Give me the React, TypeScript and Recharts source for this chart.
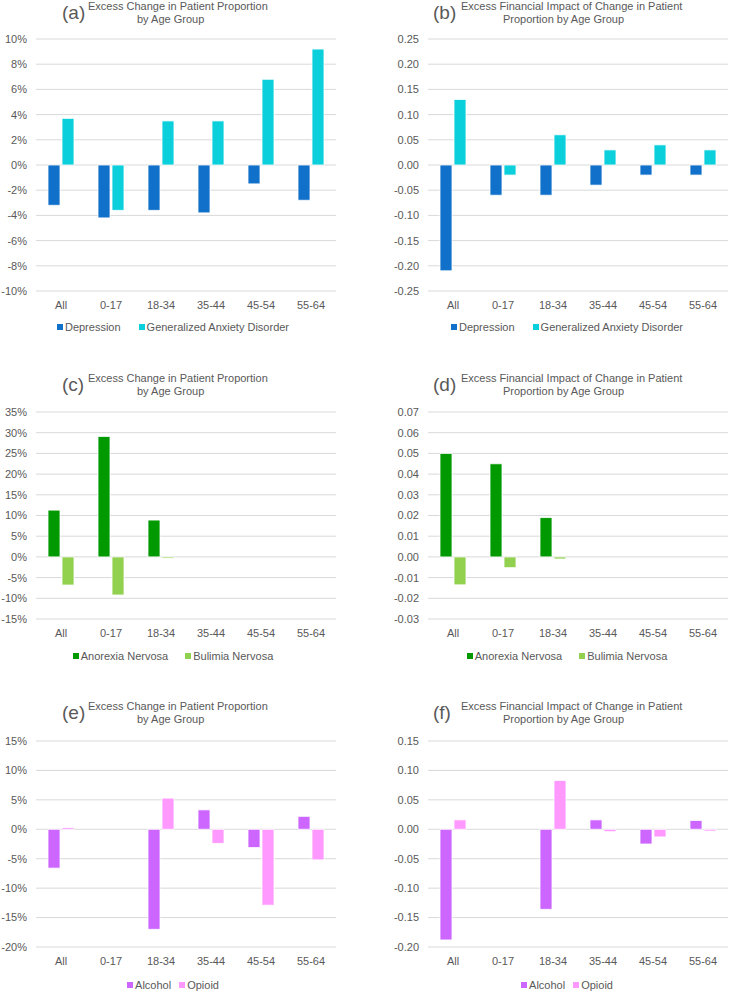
import { BarChart, Bar, XAxis, YAxis, CartesianGrid } from 'recharts';

const categories = ['All', '0-17', '18-34', '35-44', '45-54', '55-64'];

// (a) and (b): depression vs generalized anxiety disorder
const depressionPct = [-3.2, -4.2, -3.6, -3.8, -1.5, -2.8];
const anxietyPct = [3.7, -3.6, 3.5, 3.5, 6.8, 9.2];
const depressionFin = [-0.21, -0.06, -0.06, -0.04, -0.02, -0.02];
const anxietyFin = [0.13, -0.02, 0.06, 0.03, 0.04, 0.03];

// (c) and (d): eating disorders
const anorexiaPct = [11.3, 29.1, 8.9, null, null, null];
const bulimiaPct = [-6.8, -9.2, -0.3, null, null, null];
const anorexiaFin = [0.05, 0.045, 0.019, null, null, null];
const bulimiaFin = [-0.0135, -0.0052, -0.001, null, null, null];

// (e) and (f): substance use
const alcoholPct = [-6.6, null, -17.0, 3.3, -3.1, 2.2];
const opioidPct = [0.3, null, 5.3, -2.4, -12.9, -5.2];
const alcoholFin = [-0.188, null, -0.136, 0.016, -0.025, 0.015];
const opioidFin = [0.016, null, 0.083, -0.004, -0.013, -0.003];

const ticksA = [-10, -8, -6, -4, -2, 0, 2, 4, 6, 8, 10];
const ticksB = [-0.25, -0.2, -0.15, -0.1, -0.05, 0, 0.05, 0.1, 0.15, 0.2, 0.25];
const ticksC = [-15, -10, -5, 0, 5, 10, 15, 20, 25, 30, 35];
const ticksD = [-0.03, -0.02, -0.01, 0, 0.01, 0.02, 0.03, 0.04, 0.05, 0.06, 0.07];
const ticksE = [-20, -15, -10, -5, 0, 5, 10, 15];
const ticksF = [-0.2, -0.15, -0.1, -0.05, 0, 0.05, 0.1, 0.15];

const TEXT = '#595959';
const FONT = '"Liberation Sans", Arial, sans-serif';

const pct = (v: number) => `${v}%`;
const fin = (v: number) => v.toFixed(2);

function rows(a: (number | null)[], b: (number | null)[]) {
  return categories.map((cat, i) => ({ cat, s1: a[i], s2: b[i] }));
}

interface PanelProps {
  tag: string;
  line1: string;
  line2: string;
  tagX: number;
  line1X: number;
  line2X: number;
  titleY: number;
  panelX: number;
  plotLeft: number;
  plotRight: number;
  plotTop: number;
  plotBottom: number;
  ticks: number[];
  fmt: (v: number) => string;
  a: (number | null)[];
  b: (number | null)[];
  names: [string, string];
  colors: [string, string];
  legendCenter: number;
  legendY: number;
  legendGap: number;
}

function Panel(p: PanelProps) {
  const chartTop = p.plotTop - 5;
  const axisW = p.plotLeft - p.panelX;
  const width = 365;
  const height = p.plotBottom - chartTop + 30;
  return (
    <>
      <div style={{ position: 'absolute', left: p.tagX, top: p.titleY - 4, fontSize: 19, lineHeight: '22px', color: TEXT }}>
        {p.tag}
      </div>
      <div style={{ position: 'absolute', left: p.line1X, top: p.titleY - 6, fontSize: 11, lineHeight: '13px', color: TEXT, whiteSpace: 'nowrap' }}>
        {p.line1}
      </div>
      <div style={{ position: 'absolute', left: p.line2X, top: p.titleY + 7, fontSize: 11, lineHeight: '13px', color: TEXT, whiteSpace: 'nowrap' }}>
        {p.line2}
      </div>
      <div style={{ position: 'absolute', left: p.panelX, top: chartTop }}>
        <BarChart
          width={width}
          height={height}
          data={rows(p.a, p.b)}
          margin={{ top: 5, right: p.panelX + width - p.plotRight, bottom: 0, left: 0 }}
          barSize={12}
          barGap={2}
        >
          <CartesianGrid vertical={false} stroke="#D9D9D9" />
          <XAxis
            dataKey="cat"
            tickLine={false}
            axisLine={false}
            height={30}
            tickMargin={4}
            interval={0}
            tick={{ fill: TEXT, fontSize: 11, fontFamily: FONT }}
          />
          <YAxis
            type="number"
            domain={[p.ticks[0], p.ticks[p.ticks.length - 1]]}
            ticks={p.ticks}
            interval={0}
            width={axisW}
            tickLine={false}
            axisLine={false}
            tickMargin={3}
            tickFormatter={p.fmt}
            tick={{ fill: TEXT, fontSize: 11, fontFamily: FONT }}
          />
          <Bar dataKey="s1" name={p.names[0]} fill={p.colors[0]} stroke="#fff" strokeWidth={0.8} isAnimationActive={false} />
          <Bar dataKey="s2" name={p.names[1]} fill={p.colors[1]} stroke="#fff" strokeWidth={0.8} isAnimationActive={false} />
        </BarChart>
      </div>
      <div
        style={{
          position: 'absolute',
          left: p.legendCenter - 150,
          width: 300,
          top: p.legendY - 7,
          display: 'flex',
          justifyContent: 'center',
          gap: p.legendGap,
          fontSize: 11,
          lineHeight: '14px',
          color: TEXT,
          whiteSpace: 'nowrap',
        }}
      >
        {p.names.map((n, i) => (
          <span key={n} style={{ display: 'flex', alignItems: 'center' }}>
            <span style={{ width: 6, height: 6, background: p.colors[i], marginRight: 2 }} />
            {n}
          </span>
        ))}
      </div>
    </>
  );
}

const blue: [string, string] = ['#1170C9', '#0CCFDC'];
const green: [string, string] = ['#009900', '#92D050'];
const purple: [string, string] = ['#CC66FF', '#FF99FF'];

const leftGeom = { panelX: 0, plotLeft: 36, plotRight: 336, tagX: 62, line1X: 88, line2X: 137, legendCenter: 173 };
const rightGeom = { panelX: 365, plotLeft: 428, plotRight: 728, tagX: 433, line1X: 461, line2X: 503, legendCenter: 567 };

const t1 = 'Excess Change in Patient Proportion';
const t2 = 'by Age Group';
const f1 = 'Excess Financial Impact of Change in Patient';
const f2 = 'Proportion by Age Group';

export default function App() {
  return (
    <div style={{ position: 'absolute', left: 0, top: 0, width: 730, height: 992, background: '#fff', fontFamily: FONT }}>
      <Panel {...leftGeom} tag="(a)" line1={t1} line2={t2} titleY={6} plotTop={39} plotBottom={291}
        ticks={ticksA} fmt={pct} a={depressionPct} b={anxietyPct}
        names={['Depression', 'Generalized Anxiety Disorder']} colors={blue} legendY={327} legendGap={18} />
      <Panel {...rightGeom} tag="(b)" line1={f1} line2={f2} titleY={6} plotTop={39} plotBottom={291}
        ticks={ticksB} fmt={fin} a={depressionFin} b={anxietyFin}
        names={['Depression', 'Generalized Anxiety Disorder']} colors={blue} legendY={327} legendGap={18} />
      <Panel {...leftGeom} tag="(c)" line1={t1} line2={t2} titleY={378} plotTop={412} plotBottom={619}
        ticks={ticksC} fmt={pct} a={anorexiaPct} b={bulimiaPct}
        names={['Anorexia Nervosa', 'Bulimia Nervosa']} colors={green} legendY={656} legendGap={17} />
      <Panel {...rightGeom} tag="(d)" line1={f1} line2={f2} titleY={378} plotTop={412} plotBottom={619}
        ticks={ticksD} fmt={fin} a={anorexiaFin} b={bulimiaFin}
        names={['Anorexia Nervosa', 'Bulimia Nervosa']} colors={green} legendY={656} legendGap={17} />
      <Panel {...leftGeom} tag="(e)" line1={t1} line2={t2} titleY={706} plotTop={741} plotBottom={947}
        ticks={ticksE} fmt={pct} a={alcoholPct} b={opioidPct}
        names={['Alcohol', 'Opioid']} colors={purple} legendY={985} legendGap={8} />
      <Panel {...rightGeom} tag="(f)" line1={f1} line2={f2} titleY={706} plotTop={741} plotBottom={947}
        ticks={ticksF} fmt={fin} a={alcoholFin} b={opioidFin}
        names={['Alcohol', 'Opioid']} colors={purple} legendY={985} legendGap={8} />
    </div>
  );
}
